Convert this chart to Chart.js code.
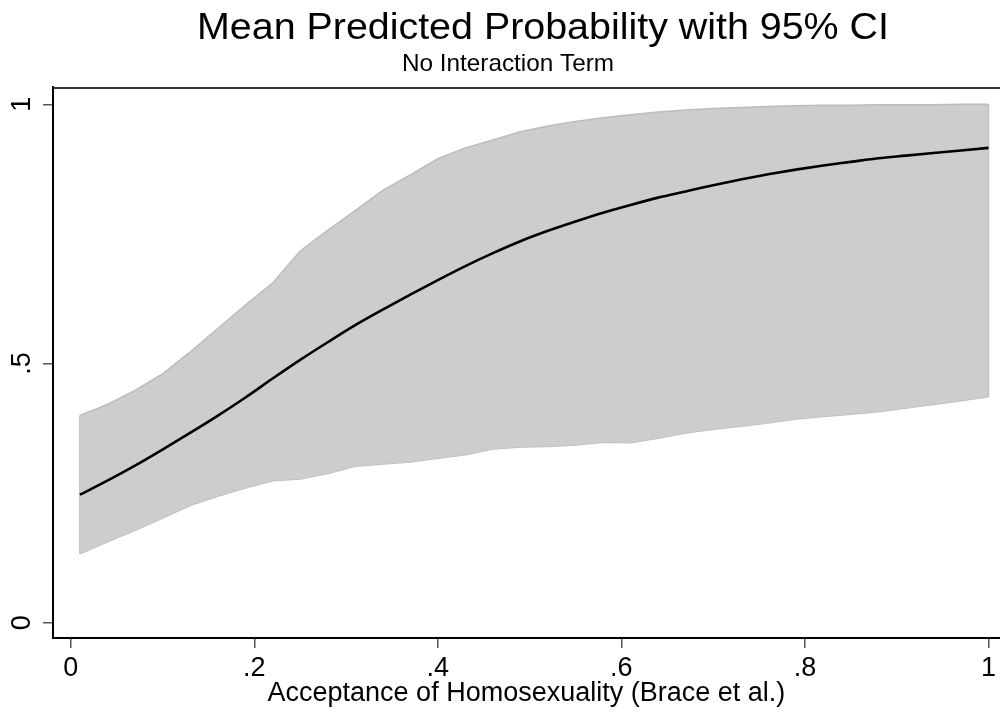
<!DOCTYPE html>
<html>
<head>
<meta charset="utf-8">
<title>Mean Predicted Probability with 95% CI</title>
<script src="https://cdn.jsdelivr.net/npm/chart.js@4.4.1/dist/chart.umd.min.js"></script>
<style>
  html, body { margin: 0; padding: 0; background: #fff; }
  #wrap { width: 1000px; height: 715px; }
</style>
</head>
<body>
<div id="wrap"><canvas id="myChart" width="1000" height="715"></canvas></div>
<script>
// values (margins evaluated at 0.01(0.03)1)
const xValues = [0.01, 0.04, 0.07, 0.10, 0.13, 0.16, 0.19, 0.22, 0.25, 0.28, 0.31, 0.34,
  0.37, 0.40, 0.43, 0.46, 0.49, 0.52, 0.55, 0.58, 0.61, 0.64, 0.67, 0.70,
  0.73, 0.76, 0.79, 0.82, 0.85, 0.88, 0.91, 0.94, 0.97, 1.00];
const meanProb = [0.247, 0.274, 0.303, 0.334, 0.366, 0.399, 0.434, 0.471, 0.507, 0.541, 0.574, 0.604,
  0.633, 0.661, 0.688, 0.713, 0.736, 0.756, 0.774, 0.791, 0.806, 0.820, 0.832, 0.844,
  0.855, 0.865, 0.874, 0.882, 0.889, 0.896, 0.901, 0.906, 0.911, 0.916];
const upperCI = [0.400, 0.421, 0.448, 0.480, 0.522, 0.567, 0.612, 0.655, 0.717, 0.757, 0.795, 0.834,
  0.864, 0.895, 0.916, 0.931, 0.947, 0.958, 0.967, 0.974, 0.980, 0.985, 0.989, 0.992,
  0.994, 0.996, 0.997, 0.998, 0.998, 0.999, 0.999, 0.999, 1.000, 1.000];
const lowerCI = [0.133, 0.156, 0.178, 0.202, 0.226, 0.244, 0.260, 0.274, 0.277, 0.288, 0.302, 0.306,
  0.310, 0.317, 0.324, 0.335, 0.339, 0.340, 0.343, 0.348, 0.347, 0.356, 0.366, 0.373,
  0.379, 0.385, 0.393, 0.398, 0.402, 0.407, 0.414, 0.421, 0.428, 0.436];

const xTicks = [0, 0.2, 0.4, 0.6, 0.8, 1];
const xTickLabels = ['0', '.2', '.4', '.6', '.8', '1'];
const yTicks = [0, 0.5, 1];
const yTickLabels = ['0', '.5', '1'];

const titleText = 'Mean Predicted Probability with 95% CI';
const subtitleText = 'No Interaction Term';
const xTitle = 'Acceptance of Homosexuality (Brace et al.)';

const FONT = '"Liberation Sans", Arial, Helvetica, sans-serif';
const bandFill = '#cdcdcd';
const bandLine = '#bcbcbc';

function pts(ys) {
  return xValues.map((x, i) => ({ x: x, y: ys[i] }));
}
function edge(i) {
  return [{ x: xValues[i], y: lowerCI[i] }, { x: xValues[i], y: upperCI[i] }];
}
function labelFor(list, labels, v) {
  for (let i = 0; i < list.length; i++) {
    if (Math.abs(list[i] - v) < 1e-9) return labels[i];
  }
  return '';
}

// title + subtitle, fitted to the width they take in the original
const titlesPlugin = {
  id: 'titles',
  afterDraw(chart) {
    const ctx = chart.ctx;
    const area = chart.chartArea;
    ctx.save();
    // frame line on top of the plot region
    ctx.strokeStyle = '#333';
    ctx.lineWidth = 2;
    ctx.beginPath();
    ctx.moveTo(area.left, area.top + 1);
    ctx.lineTo(chart.width, area.top + 1);
    ctx.stroke();

    ctx.fillStyle = '#000';
    ctx.textBaseline = 'alphabetic';
    ctx.textAlign = 'left';
    const lines = [
      { text: titleText, size: 36, left: 197, right: 889, base: 39 },
      { text: subtitleText, size: 24, left: 402, right: 614, base: 71 }
    ];
    lines.forEach(l => {
      ctx.font = l.size + 'px ' + FONT;
      const w = ctx.measureText(l.text).width;
      ctx.save();
      ctx.translate(l.left, l.base);
      ctx.scale((l.right - l.left) / w, 1);
      ctx.fillText(l.text, 0, 0);
      ctx.restore();
    });
    ctx.restore();
  }
};

const ctx = document.getElementById('myChart');
const myChart = new Chart(ctx, {
  type: 'line',
  data: {
    datasets: [
      {
        label: 'Mean',
        data: pts(meanProb),
        borderColor: '#000',
        borderWidth: 2.6,
        pointRadius: 0,
        fill: false,
        cubicInterpolationMode: 'monotone'
      },
      {
        label: 'Upper CI',
        data: pts(upperCI),
        borderColor: bandLine,
        borderWidth: 1.5,
        backgroundColor: bandFill,
        pointRadius: 0,
        tension: 0,
        fill: '+1'
      },
      {
        label: 'Lower CI',
        data: pts(lowerCI),
        borderColor: bandLine,
        borderWidth: 1.5,
        pointRadius: 0,
        tension: 0,
        fill: false
      },
      {
        label: 'left edge',
        data: edge(0),
        borderColor: bandLine,
        borderWidth: 1.5,
        pointRadius: 0,
        fill: false
      },
      {
        label: 'right edge',
        data: edge(xValues.length - 1),
        borderColor: bandLine,
        borderWidth: 1.5,
        pointRadius: 0,
        fill: false
      }
    ]
  },
  options: {
    responsive: false,
    animation: false,
    events: [],
    layout: { padding: { top: 87, left: 0, right: 0, bottom: 0 } },
    scales: {
      x: {
        type: 'linear',
        min: -0.0193,
        max: 1.0123,
        afterBuildTicks: (scale) => { scale.ticks = xTicks.map(v => ({ value: v })); },
        afterFit: (scale) => { scale.height = 77; },
        border: { display: true, color: '#000', width: 2 },
        grid: { display: true, drawOnChartArea: false, drawTicks: true, tickLength: 10, color: '#555', lineWidth: 1.5 },
        ticks: {
          autoSkip: false,
          maxRotation: 0,
          padding: 4,
          color: '#000',
          font: { family: FONT, size: 27 },
          callback: (v) => labelFor(xTicks, xTickLabels, v)
        },
        title: {
          display: true,
          text: xTitle,
          color: '#000',
          font: { family: FONT, size: 27 },
          padding: { top: 0, bottom: 5 }
        }
      },
      y: {
        type: 'linear',
        min: -0.0295,
        max: 1.0334,
        afterBuildTicks: (scale) => { scale.ticks = yTicks.map(v => ({ value: v })); },
        afterFit: (scale) => { scale.width = 53; },
        border: { display: true, color: '#000', width: 2 },
        grid: { display: true, drawOnChartArea: false, drawTicks: true, tickLength: 10, color: '#555', lineWidth: 1.5 },
        ticks: {
          minRotation: 90,
          maxRotation: 90,
          crossAlign: 'center',
          padding: 9,
          color: '#000',
          font: { family: FONT, size: 27 },
          callback: (v) => labelFor(yTicks, yTickLabels, v)
        }
      }
    },
    plugins: {
      legend: { display: false },
      tooltip: { enabled: false },
      title: { display: false }
    }
  },
  plugins: [titlesPlugin]
});
</script>
</body>
</html>
